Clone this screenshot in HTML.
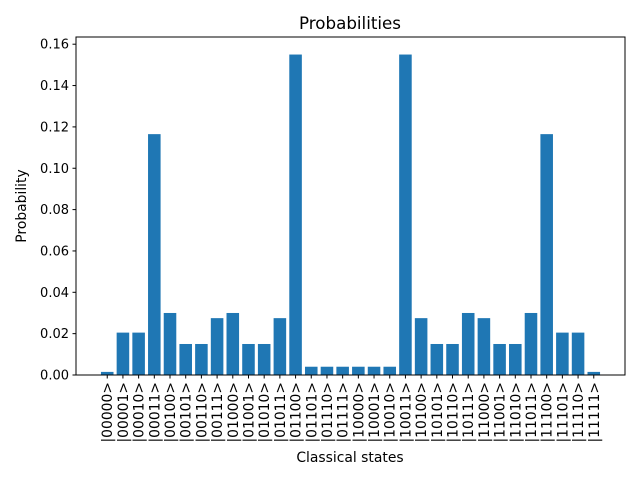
<!DOCTYPE html>
<html><head><meta charset="utf-8"><style>body{margin:0;background:#fff}svg{display:block}text{font-family:"DejaVu Sans","Liberation Sans",sans-serif;fill:#000}</style></head>
<body>
<svg id="chart" width="640" height="480">
<text x="350" y="29" font-size="16.7" text-anchor="middle">Probabilities</text>
<text x="26" y="206" font-size="13.9" text-anchor="middle" transform="rotate(-90 26 206)">Probability</text>
<text x="350" y="462" font-size="13.9" text-anchor="middle">Classical states</text>
<g id="bars"></g><g id="yt"></g><g id="xt"></g>
<rect x="76" y="37" width="549" height="338" fill="none" stroke="#000" stroke-width="1"/>
</svg>
<script>
const categories = ["|00000>","|00001>","|00010>","|00011>","|00100>","|00101>","|00110>","|00111>","|01000>","|01001>","|01010>","|01011>","|01100>","|01101>","|01110>","|01111>","|10000>","|10001>","|10010>","|10011>","|10100>","|10101>","|10110>","|10111>","|11000>","|11001>","|11010>","|11011>","|11100>","|11101>","|11110>","|11111>"];
const values = [0.0015,0.0205,0.0205,0.1165,0.030,0.015,0.015,0.0275,0.030,0.015,0.015,0.0275,0.155,0.004,0.004,0.004,0.004,0.004,0.004,0.155,0.0275,0.015,0.015,0.030,0.0275,0.015,0.015,0.030,0.1165,0.0205,0.0205,0.0015];
const yTicks = [0,0.02,0.04,0.06,0.08,0.10,0.12,0.14,0.16];
const NS="http://www.w3.org/2000/svg";
const L=76,R=625,T=37,B=375;
const xmin=-0.4-31.8*0.05, xmax=31.4+31.8*0.05;
const x=i=>L+(i-xmin)/(xmax-xmin)*(R-L);
const y=v=>B-v/0.02*41.35;
const bars=document.getElementById('bars'),yt=document.getElementById('yt'),xt=document.getElementById('xt');
values.forEach((v,i)=>{
 const r=document.createElementNS(NS,'rect');
 r.setAttribute('x',x(i-0.4));r.setAttribute('width',x(0.4)-x(-0.4));
 r.setAttribute('y',y(v));r.setAttribute('height',B-y(v));r.setAttribute('fill','#1f77b4');
 
 
 bars.appendChild(r);
 const tk=document.createElementNS(NS,'line');
 tk.setAttribute('x1',x(i));tk.setAttribute('x2',x(i));tk.setAttribute('y1',B);tk.setAttribute('y2',B+3.5);tk.setAttribute('stroke','#000');
 
 
 xt.appendChild(tk);
 const t=document.createElementNS(NS,'text');
 const tx=x(i)+5,ty=382;
 t.setAttribute('x',tx);t.setAttribute('y',ty);t.setAttribute('font-size','13.9');t.setAttribute('text-anchor','end');
 t.setAttribute('transform','rotate(-90 '+tx+' '+ty+')');t.textContent=categories[i];
 
 
 xt.appendChild(t);
});
yTicks.forEach(v=>{
 const tk=document.createElementNS(NS,'line');
 tk.setAttribute('x1',L-3.5);tk.setAttribute('x2',L);tk.setAttribute('y1',y(v));tk.setAttribute('y2',y(v));tk.setAttribute('stroke','#000');
 
 
 yt.appendChild(tk);
 const t=document.createElementNS(NS,'text');
 t.setAttribute('x',L-7);t.setAttribute('y',y(v)+4.5);t.setAttribute('font-size','13');t.setAttribute('text-anchor','end');
 t.textContent=v.toFixed(2);
 
 
 yt.appendChild(t);
});
</script>
</body></html>
